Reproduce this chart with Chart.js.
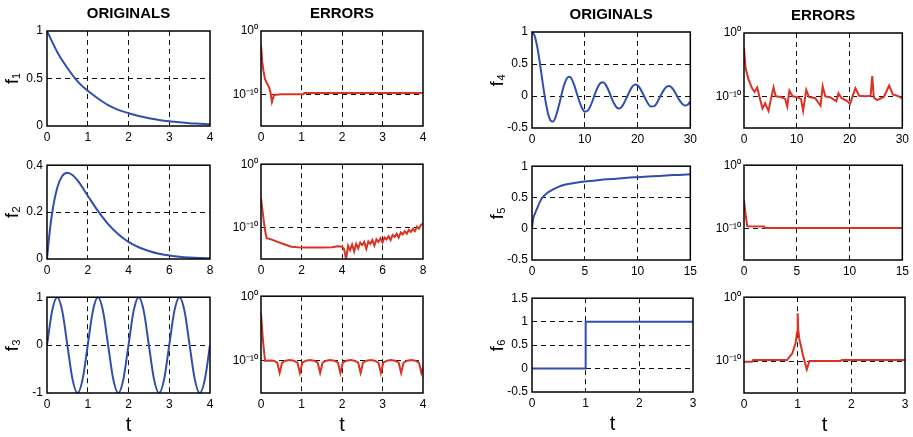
<!DOCTYPE html>
<html>
<head>
<meta charset="utf-8">
<script src="https://cdn.jsdelivr.net/npm/chart.js@4"></script>
<style>
  html, body { margin: 0; padding: 0; background: #fff; overflow: hidden; }
  #fig { position: relative; width: 913px; height: 437px; }
  #fig canvas { position: absolute; }
</style>
</head>
<body>
<div id="fig"></div>
<script>
// ---- values ----
// originals
const f1T = [0, 0.25, 0.5, 0.75, 1, 1.25, 1.5, 1.75, 2, 2.25, 2.5, 2.75, 3, 3.25, 3.5, 3.75, 4];
const f1Y = [1, 0.78, 0.61, 0.47, 0.37, 0.29, 0.22, 0.17, 0.135, 0.105, 0.082, 0.064, 0.05, 0.039, 0.03, 0.024, 0.018];

const f2T = [0, 0.1, 0.25, 0.5, 0.75, 1, 1.25, 1.5, 2, 2.5, 3, 3.5, 4, 4.5, 5, 5.5, 6, 6.5, 7, 7.5, 8];
const f2Y = [0, 0.09, 0.195, 0.303, 0.354, 0.368, 0.358, 0.335, 0.27, 0.205, 0.149, 0.106, 0.073, 0.05, 0.034, 0.022, 0.015, 0.0098, 0.0064, 0.0041, 0.0027];

const f3T = [0, 0.125, 0.25, 0.375, 0.5, 0.625, 0.75, 0.875, 1, 1.125, 1.25, 1.375, 1.5, 1.625, 1.75, 1.875,
  2, 2.125, 2.25, 2.375, 2.5, 2.625, 2.75, 2.875, 3, 3.125, 3.25, 3.375, 3.5, 3.625, 3.75, 3.875, 4];
const f3Y = [0, 0.71, 1, 0.71, 0, -0.71, -1, -0.71, 0, 0.71, 1, 0.71, 0, -0.71, -1, -0.71,
  0, 0.71, 1, 0.71, 0, -0.71, -1, -0.71, 0, 0.71, 1, 0.71, 0, -0.71, -1, -0.71, 0];

const f4T = [0, 0.5, 1, 1.5, 2, 2.5, 3, 3.5, 4, 4.5, 5, 5.5, 6, 6.5, 7, 7.5, 8, 8.5, 9, 9.5, 10,
  10.5, 11, 11.5, 12, 12.5, 13, 13.5, 14, 14.5, 15, 15.5, 16, 16.5, 17, 17.5, 18, 18.5, 19, 19.5, 20,
  20.5, 21, 21.5, 22, 22.5, 23, 23.5, 24, 24.5, 25, 25.5, 26, 26.5, 27, 27.5, 28, 28.5, 29, 29.5, 30];
const f4Y = [1, 0.94, 0.765, 0.51, 0.22, -0.05, -0.26, -0.38, -0.4, -0.32, -0.18, -0.01, 0.15, 0.26, 0.3, 0.27, 0.17, 0.04, -0.09, -0.19, -0.245,
  -0.235, -0.17, -0.07, 0.05, 0.145, 0.205, 0.215, 0.17, 0.09, -0.015, -0.11, -0.175, -0.195, -0.17, -0.1, -0.015, 0.075, 0.145, 0.18, 0.167,
  0.115, 0.037, -0.045, -0.12, -0.164, -0.162, -0.13, -0.056, 0.024, 0.096, 0.144, 0.156, 0.13, 0.072, -0.004, -0.073, -0.125, -0.148, -0.136, -0.086];

const f5T = [0, 0.1, 0.25, 0.5, 0.75, 1, 1.5, 2, 2.5, 3, 4, 5, 6, 7, 8, 9, 10, 11, 12, 13, 14, 15];
const f5Y = [0, 0.15, 0.23, 0.33, 0.43, 0.5, 0.58, 0.63, 0.67, 0.7, 0.73, 0.755, 0.77, 0.79, 0.8, 0.815, 0.825, 0.835, 0.845, 0.855, 0.86, 0.87];

const f6T = [0, 1, 1, 3];
const f6Y = [0, 0, 1, 1];

// errors, stored as log10 of the error
const e1T = [0, 0.03, 0.06, 0.1, 0.15, 0.2, 0.23, 0.27, 0.32, 0.5, 1.05, 1.07, 4];
const e1L = [-2.2, -4.8, -6.3, -7.6, -8.3, -8.9, -9.6, -11.2, -10.1, -10, -10, -9.8, -9.8];

const e2T = [0, 0.1, 0.2, 0.28, 0.5, 1, 1.5, 2, 2.5, 3, 3.5, 3.8, 4,
  4.1, 4.2, 4.3, 4.4, 4.5, 4.6, 4.7, 4.8, 4.9, 5, 5.1, 5.2, 5.3, 5.4, 5.5, 5.6, 5.7, 5.8, 5.9, 6,
  6.1, 6.2, 6.3, 6.4, 6.5, 6.6, 6.7, 6.8, 6.9, 7, 7.1, 7.2, 7.3, 7.4, 7.5, 7.6, 7.7, 7.8, 7.9, 8];
const e2L = [-5.4, -8, -10.5, -11.7, -11.9, -12.5, -13.05, -13.2, -13.2, -13.2, -13.15, -13, -13.05,
  -13.4, -15, -12.9, -13.6, -12.7, -13.8, -12.6, -13.3, -12.4, -12.8, -12.3, -13.4, -12.2, -12.6, -12, -12.9, -11.9, -12.3, -11.7, -12.4,
  -11.6, -11.9, -11.4, -12, -11.2, -11.5, -11, -11.6, -10.8, -11.1, -10.6, -11, -10.4, -10.7, -10.2, -10.6, -9.9, -10.2, -9.6, -9.4];

const e3T = [0, 0.05, 0.1, 0.25, 0.31,
  0.4, 0.46, 0.52, 0.61, 0.71, 0.81,
  0.9, 0.96, 1.02, 1.11, 1.21, 1.31,
  1.4, 1.46, 1.52, 1.61, 1.71, 1.81,
  1.9, 1.96, 2.02, 2.11, 2.21, 2.31,
  2.4, 2.46, 2.52, 2.61, 2.71, 2.81,
  2.9, 2.96, 3.02, 3.11, 3.21, 3.31,
  3.4, 3.46, 3.52, 3.61, 3.71, 3.81,
  3.9, 3.96, 4];
const e3L = [-2.7, -7, -10, -9.95, -10,
  -10.3, -11.9, -10.3, -10, -9.9, -10,
  -10.3, -11.9, -10.3, -10, -9.9, -10,
  -10.3, -11.9, -10.3, -10, -9.9, -10,
  -10.3, -11.9, -10.3, -10, -9.9, -10,
  -10.3, -11.9, -10.3, -10, -9.9, -10,
  -10.3, -11.9, -10.3, -10, -9.9, -10,
  -10.3, -11.9, -10.3, -10, -9.9, -10,
  -10.3, -11.9, -11];

const e4T = [0, 0.3, 0.8, 1.5, 2, 2.5, 3, 3.5, 4, 4.65, 5, 5.6, 6, 7, 7.8, 8.2, 8.6, 9.2, 10, 10.8, 11.2, 11.8,
  12.3, 13.5, 14.5, 14.9, 15.4, 16.5, 17.5, 17.9, 18.5, 19.5, 20.1, 21.1, 21.8, 23, 24, 24.3, 24.6, 25.2,
  26.5, 27.5, 28.2, 29, 30];
const e4L = [-2.4, -5.5, -7.2, -8.7, -9.3, -8.6, -10.3, -11.9, -11.1, -12.3, -10.8, -8.6, -10, -10.1, -10.4, -11.6, -9.1, -10, -10.1, -10.4, -12.3, -9,
  -10.1, -10.3, -11.5, -8.4, -10, -10.2, -10.8, -9.5, -10.3, -10.7, -11.2, -8.7, -9.9, -10, -9.9, -6.8, -10.2, -10.6,
  -10.1, -8.3, -9.7, -9.9, -10.3];

const e5T = [0, 0.15, 0.3, 0.4, 1.9, 2, 15];
const e5L = [-5.5, -7.8, -9.6, -9.65, -9.7, -9.95, -9.95];

const e6T = [0, 0.15, 0.17, 0.8, 0.9, 0.96, 0.99, 1, 1.01, 1.03, 1.1, 1.17, 1.22, 1.8, 1.82, 3];
const e6L = [-10.1, -10.1, -9.85, -9.85, -8.8, -7.2, -5.5, -2.5, -5, -6.5, -9.1, -11.3, -10, -10, -9.85, -9.85];

// ---- layout & styles ----
const FONT = "'Liberation Sans Narrow', 'Liberation Sans', Arial, sans-serif";
const BLUE = 'rgb(50, 78, 172)';
const RED = 'rgb(220, 50, 36)';

const panels = [
  { t: f1T, v: f1Y, box: [47, 31, 210, 126], xMax: 4, xStep: 1, y: [0, 1, 0.5], yTitle: 'f₁', title: 'ORIGINALS' },
  { t: e1T, v: e1L, box: [261, 31, 423, 126], xMax: 4, xStep: 1, log: true, title: 'ERRORS' },
  { t: f2T, v: f2Y, box: [47, 164, 210, 259], xMax: 8, xStep: 2, y: [0, 0.4, 0.2], yTitle: 'f₂' },
  { t: e2T, v: e2L, box: [261, 164, 423, 259], xMax: 8, xStep: 2, log: true },
  { t: f3T, v: f3Y, box: [47, 296, 210, 393], xMax: 4, xStep: 1, y: [-1, 1, 1], yTitle: 'f₃', xTitle: 't' },
  { t: e3T, v: e3L, box: [261, 296, 423, 393], xMax: 4, xStep: 1, log: true, xTitle: 't' },
  { t: f4T, v: f4Y, box: [532, 32, 693, 128], xMax: 30, xStep: 10, y: [-0.5, 1, 0.5], yTitle: 'f₄', title: 'ORIGINALS' },
  { t: e4T, v: e4L, box: [744, 33, 905, 128], xMax: 30, xStep: 10, log: true, title: 'ERRORS' },
  { t: f5T, v: f5Y, box: [532, 165, 693, 260], xMax: 15, xStep: 5, y: [-0.5, 1, 0.5], yTitle: 'f₅' },
  { t: e5T, v: e5L, box: [744, 165, 905, 260], xMax: 15, xStep: 5, log: true },
  { t: f6T, v: f6Y, box: [532, 297, 693, 392], xMax: 3, xStep: 1, y: [-0.5, 1.5, 0.5], yTitle: 'f₆', xTitle: 't' },
  { t: e6T, v: e6L, box: [744, 297, 905, 393], xMax: 3, xStep: 1, log: true, xTitle: 't' }
];

const frame = {
  id: 'frame',
  afterDatasetsDraw(chart) {
    const { ctx, chartArea: a } = chart;
    ctx.save();
    ctx.strokeStyle = '#000';
    ctx.lineWidth = 1.5;
    ctx.strokeRect(a.left, a.top, a.right - a.left, a.bottom - a.top);
    ctx.restore();
  }
};

// dashed grid only on the inner ticks
const inner = (lo, hi) => c => (c.tick && c.tick.value > lo && c.tick.value < hi) ? '#111' : 'rgba(0,0,0,0)';
// plain labels like MATLAB: 1, 0.5, -0.5
const plain = v => String(+Number(v).toFixed(3));

const fig = document.getElementById('fig');

panels.forEach(p => {
  const [l, t, r, b] = p.box;
  const padL = 46, padR = 8;
  const padT = p.title ? 28 : 10;
  const padB = p.xTitle ? 44 : 20;

  const cv = document.createElement('canvas');
  cv.width = r - l + padL + padR;
  cv.height = b - t + padT + padB;
  cv.style.left = (l - padL) + 'px';
  cv.style.top = (t - padT) + 'px';
  fig.appendChild(cv);

  const data = p.t.map((x, i) => ({ x: x, y: p.log ? Math.pow(10, p.v[i]) : p.v[i] }));

  let yScale;
  if (p.log) {
    yScale = {
      type: 'logarithmic',
      min: 1e-15,
      max: 1,
      afterBuildTicks: s => { s.ticks = [{ value: 1e-15 }, { value: 1e-10 }, { value: 1 }]; },
      ticks: {
        color: '#000',
        padding: 3,
        font: { family: FONT, size: 12 },
        callback: v => v === 1 ? '10⁰' : (Math.abs(Math.log10(v) + 10) < 0.01 ? '10⁻¹⁰' : '')
      },
      grid: { color: inner(1e-14, 0.5), drawTicks: false, lineWidth: 1 },
      border: { display: false, dash: [5, 4] },
      afterFit: s => { s.width = padL; }
    };
  } else {
    const [lo, hi, step] = p.y;
    const eps = (hi - lo) * 0.01;
    yScale = {
      type: 'linear',
      min: lo,
      max: hi,
      ticks: { stepSize: step, color: '#000', padding: 4, font: { family: FONT, size: 12 }, callback: plain },
      grid: { color: inner(lo + eps, hi - eps), drawTicks: false, lineWidth: 1 },
      border: { display: false, dash: [5, 4] },
      title: {
        display: true,
        text: p.yTitle,
        color: '#000',
        font: { family: "'Liberation Sans', Arial, sans-serif", size: 18 },
        padding: { top: 1, bottom: 0 }
      },
      afterFit: s => { s.width = padL; }
    };
  }

  new Chart(cv, {
    type: 'line',
    data: {
      datasets: [{
        data: data,
        borderColor: p.log ? RED : BLUE,
        borderWidth: 2,
        pointRadius: 0,
        fill: false,
        tension: 0,
        cubicInterpolationMode: p.log ? 'default' : 'monotone'
      }]
    },
    plugins: [frame],
    options: {
      responsive: false,
      animation: false,
      devicePixelRatio: 1,
      layout: { padding: { top: p.title ? 0 : padT, right: padR, left: 0, bottom: 0 } },
      plugins: {
        legend: { display: false },
        tooltip: { enabled: false },
        title: {
          display: !!p.title,
          text: p.title,
          fullSize: false,
          color: '#000',
          font: { family: FONT, size: 15, weight: 'bold', lineHeight: 1.2 },
          padding: { top: 2, bottom: 8 }
        }
      },
      scales: {
        x: {
          type: 'linear',
          min: 0,
          max: p.xMax,
          ticks: { stepSize: p.xStep, maxRotation: 0, autoSkip: false, color: '#000', padding: 4, font: { family: FONT, size: 12 }, callback: plain },
          grid: { color: inner(p.xMax * 0.01, p.xMax * 0.99), drawTicks: false, lineWidth: 1 },
          border: { display: false, dash: [5, 4] },
          title: {
            display: !!p.xTitle,
            text: p.xTitle,
            color: '#000',
            font: { family: "'Liberation Sans', Arial, sans-serif", size: 20 },
            padding: { top: 0, bottom: 0 }
          },
          afterFit: s => { s.height = padB; }
        },
        y: yScale
      }
    }
  });
});
</script>
</body>
</html>
